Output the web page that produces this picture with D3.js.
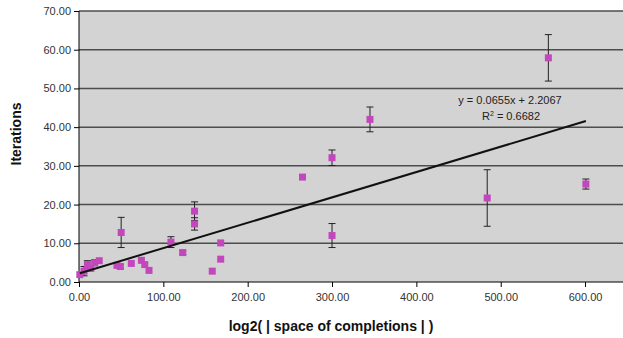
<!DOCTYPE html>
<html lang="en">
<head>
  <meta charset="utf-8">
  <title>Iterations vs log2 space of completions</title>
  <script src="https://cdn.jsdelivr.net/npm/d3@7"></script>
  <style>
    body { margin: 0; background: #fff; }
    text { font-family: "Liberation Sans", Arial, sans-serif; }
  </style>
</head>
<body>
  <svg class="chart"></svg>
<script>
  // data: x, mean iterations, error bar half-height
  var xValues = [1, 6, 10, 14, 18.5, 24, 45, 49, 50, 62, 74, 78, 83, 109, 123, 137, 137, 158, 168, 168, 265, 300, 300, 345, 484, 556.5, 601];
  var yValues = [1.9, 2.8, 4.5, 3.5, 5.0, 5.5, 4.3, 4.0, 12.8, 4.8, 5.6, 4.5, 3.0, 10.3, 7.6, 18.3, 15.0, 2.8, 10.1, 5.9, 27.1, 32.1, 12.0, 42.0, 21.7, 57.9, 25.3];
  var errValues = [0, 1.2, 1.0, 0, 0.8, 0, 0, 0.6, 3.9, 0, 0, 0, 0, 1.4, 0.5, 2.4, 1.6, 0, 0, 0, 0, 2.0, 3.1, 3.2, 7.3, 6.0, 1.3];
  var xTicks = [0, 100, 200, 300, 400, 500, 600];
  var yTicks = [0, 10, 20, 30, 40, 50, 60, 70];
  var trend = { slope: 0.0655, intercept: 2.2067, r2: 0.6682 };

  var W = 623, H = 338;
  var plotLeft = 79, plotTop = 11, plotRight = 623, plotBottom = 282;

  var data = xValues.map((x, i) => ({ x: x, y: yValues[i], e: errValues[i] }));

  var svg = d3.select(".chart").attr("width", W).attr("height", H);

  var x = d3.scaleLinear().domain([0, 645]).range([plotLeft, plotRight]);
  var y = d3.scaleLinear().domain([0, 70]).range([plotBottom, plotTop]);

  // plot area
  svg.append("rect")
    .attr("x", plotLeft).attr("y", plotTop)
    .attr("width", plotRight - plotLeft).attr("height", plotBottom - plotTop)
    .style("fill", "#d3d3d3");

  // gridlines
  svg.append("g").selectAll("line")
    .data(yTicks.filter(d => d > 0))
    .enter().append("line")
    .attr("x1", plotLeft).attr("x2", plotRight)
    .attr("y1", d => y(d)).attr("y2", d => y(d))
    .style("stroke", "#4d4d4d").style("stroke-width", "1.5px");

  // axes
  var yAxis = svg.append("g")
    .attr("transform", "translate(" + plotLeft + ",0)")
    .call(d3.axisLeft(y).tickValues(yTicks).tickFormat(d3.format(".2f")).tickSize(5).tickPadding(3));
  var xAxis = svg.append("g")
    .attr("transform", "translate(0," + plotBottom + ")")
    .call(d3.axisBottom(x).tickValues(xTicks).tickFormat(d3.format(".2f")).tickSize(5).tickPadding(6));

  [xAxis, yAxis].forEach(a => {
    a.select(".domain").style("stroke", "#000").style("stroke-width", "1px");
    a.selectAll(".tick line").style("stroke", "#000");
    a.selectAll("text").style("font-size", "11px").style("fill", "#333")
      .style("font-family", "'Liberation Sans', Arial, sans-serif");
  });
  // plain axis lines, no end ticks
  xAxis.select(".domain").attr("d", "M" + plotLeft + ",0H" + plotRight);
  yAxis.select(".domain").attr("d", "M0," + plotTop + "V" + plotBottom);

  // error bars
  var eb = svg.append("g").selectAll("g")
    .data(data.filter(d => d.e > 0))
    .enter().append("g")
    .style("stroke", "#222").style("stroke-width", "1px");
  eb.append("line")
    .attr("x1", d => x(d.x)).attr("x2", d => x(d.x))
    .attr("y1", d => y(d.y + d.e)).attr("y2", d => y(d.y - d.e));
  eb.append("line")
    .attr("x1", d => x(d.x) - 3.5).attr("x2", d => x(d.x) + 3.5)
    .attr("y1", d => y(d.y + d.e)).attr("y2", d => y(d.y + d.e));
  eb.append("line")
    .attr("x1", d => x(d.x) - 3.5).attr("x2", d => x(d.x) + 3.5)
    .attr("y1", d => y(d.y - d.e)).attr("y2", d => y(d.y - d.e));

  // markers
  svg.append("g").selectAll("rect")
    .data(data)
    .enter().append("rect")
    .attr("x", d => x(d.x) - 3.5).attr("y", d => y(d.y) - 3.5)
    .attr("width", 7).attr("height", 7)
    .style("fill", "#c346bd");

  // linear trendline
  var xMin = d3.min(xValues), xMax = d3.max(xValues);
  svg.append("line")
    .attr("x1", x(xMin)).attr("y1", y(trend.slope * xMin + trend.intercept))
    .attr("x2", x(xMax)).attr("y2", y(trend.slope * xMax + trend.intercept))
    .style("stroke", "#111").style("stroke-width", "2px");

  // trendline label
  svg.append("text")
    .attr("x", 510).attr("y", 104)
    .style("text-anchor", "middle").style("font-size", "11px").style("fill", "#222")
    .text("y = " + trend.slope + "x + " + trend.intercept);
  var r = svg.append("text")
    .attr("x", 511).attr("y", 120)
    .style("text-anchor", "middle").style("font-size", "11px").style("fill", "#222");
  r.append("tspan").text("R");
  r.append("tspan").attr("dy", -4).style("font-size", "7px").text("2");
  r.append("tspan").attr("dy", 4).text(" = " + trend.r2);

  // axis titles
  svg.append("text")
    .attr("x", 331).attr("y", 331)
    .style("text-anchor", "middle").style("font-size", "14px").style("font-weight", "bold").style("fill", "#111")
    .text("log2( | space of completions | )");
  svg.append("text")
    .attr("transform", "translate(21,134) rotate(-90)")
    .style("text-anchor", "middle").style("font-size", "14px").style("font-weight", "bold").style("fill", "#111")
    .text("Iterations");
</script>
</body>
</html>
